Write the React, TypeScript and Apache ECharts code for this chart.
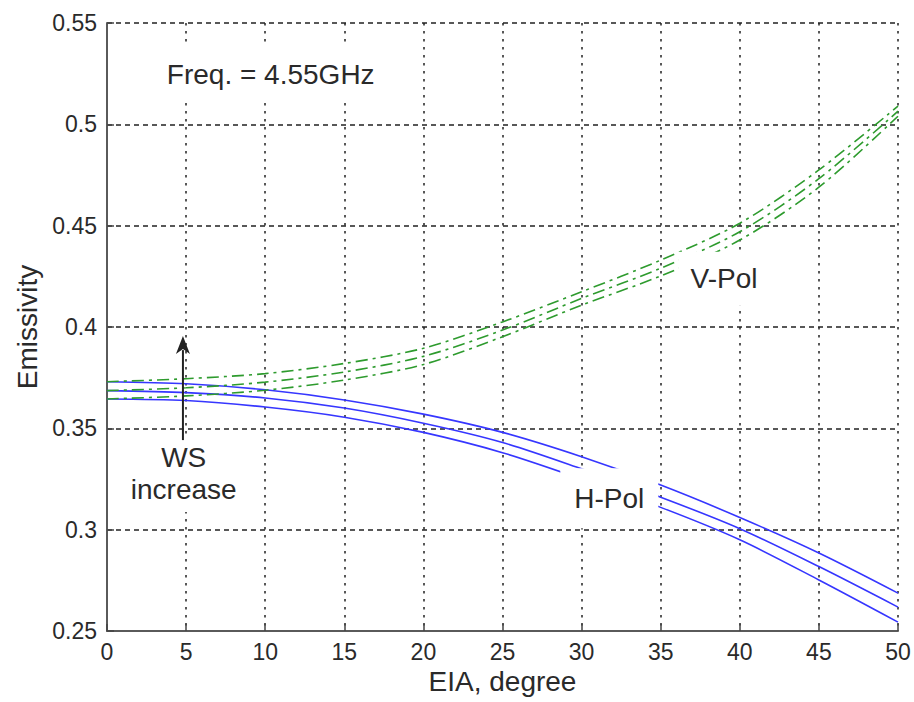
import React, { useEffect, useRef } from "react";
import * as echarts from "echarts";

// Incidence angle (degrees)
const eia = [0, 5, 10, 15, 20, 25, 30, 35, 40, 45, 50];

// H-polarisation emissivity, three wind speeds
const hPolA = [0.373, 0.372, 0.369, 0.364, 0.357, 0.348, 0.336, 0.322, 0.306, 0.2885, 0.2687];
const hPolB = [0.3686, 0.3676, 0.365, 0.36, 0.3525, 0.343, 0.33, 0.316, 0.3005, 0.2818, 0.2618];
const hPolC = [0.3645, 0.3637, 0.3605, 0.3555, 0.348, 0.338, 0.325, 0.311, 0.295, 0.2752, 0.2544];

// V-polarisation emissivity, three wind speeds
const vPolA = [0.373, 0.3745, 0.377, 0.382, 0.3895, 0.4025, 0.4174, 0.433, 0.4512, 0.4775, 0.509];
const vPolB = [0.3686, 0.370, 0.3728, 0.3778, 0.3855, 0.3985, 0.4141, 0.429, 0.447, 0.4732, 0.5065];
const vPolC = [0.3645, 0.366, 0.3688, 0.3738, 0.3815, 0.3952, 0.4108, 0.4252, 0.4429, 0.469, 0.504];

// Axis ticks
const xTicks = { min: 0, max: 50, step: 5 };
const yTicks = { min: 0.25, max: 0.55, step: 0.05 };

// Text annotations, anchored in data coordinates (centre of the label)
const labels = [
  { text: "Freq. = 4.55GHz", x: 10.35, y: 0.5248, pad: [13, 14] },
  { text: "V-Pol", x: 39.0, y: 0.4238, pad: [11, 12] },
  { text: "H-Pol", x: 31.75, y: 0.3155, pad: [14, 14] },
  { text: "WS\nincrease", x: 4.85, y: 0.3275, pad: [6, 14] },
];

// "WS increase" arrow (data coordinates)
const arrow = { x: 4.8, from: 0.3442, to: 0.3955 };

const FONT = "'Liberation Sans', Arial, Helvetica, sans-serif";
const TEXT = "#2a2a2a";
const BLUE = "#3636ff";
const GREEN = "#2e9b2e";

const pairs = (ys: number[]) => eia.map((x, i) => [x, ys[i]]);

export default function App() {
  const ref = useRef<HTMLDivElement>(null);

  useEffect(() => {
    if (!ref.current) return;
    const chart = echarts.init(ref.current, null, { renderer: "svg" });

    const hLine = (name: string, ys: number[]) => ({
      name,
      type: "line",
      data: pairs(ys),
      smooth: 0.3,
      symbol: "none",
      lineStyle: { color: BLUE, width: 1.6 },
      z: 3,
    });
    const vLine = (name: string, ys: number[]) => ({
      name,
      type: "line",
      data: pairs(ys),
      smooth: 0.3,
      symbol: "none",
      lineStyle: { color: GREEN, width: 1.6, type: [12, 5, 3, 5] },
      z: 3,
    });

    chart.setOption({
      animation: false,
      backgroundColor: "#ffffff",
      grid: { left: 107, right: 16, top: 23, bottom: 71, containLabel: false },
      xAxis: {
        type: "value",
        min: xTicks.min,
        max: xTicks.max,
        interval: xTicks.step,
        name: "EIA, degree",
        nameLocation: "middle",
        nameGap: 36,
        nameTextStyle: { fontFamily: FONT, fontSize: 28, color: TEXT },
        axisLine: { show: true, lineStyle: { color: "#5a5a5a", width: 2 } },
        axisTick: { show: true, inside: true, length: 7, lineStyle: { color: "#444", width: 1.5 } },
        axisLabel: { fontFamily: FONT, fontSize: 23, color: TEXT, margin: 9 },
        splitLine: { show: true, lineStyle: { color: "#222", width: 1.5, type: [2.5, 5.5] } },
      },
      yAxis: {
        type: "value",
        min: yTicks.min,
        max: yTicks.max,
        interval: yTicks.step,
        name: "Emissivity",
        nameLocation: "middle",
        nameGap: 64,
        nameTextStyle: { fontFamily: FONT, fontSize: 28, color: TEXT },
        axisLine: { show: true, lineStyle: { color: "#5a5a5a", width: 2 } },
        axisTick: { show: true, inside: true, length: 7, lineStyle: { color: "#444", width: 1.5 } },
        axisLabel: {
          fontFamily: FONT,
          fontSize: 23,
          color: TEXT,
          margin: 10,
          formatter: (v: number) => String(Number(v.toFixed(2))),
        },
        splitLine: { show: true, lineStyle: { color: "#222", width: 1.5, type: [5, 4] } },
      },
      series: [
        hLine("H-Pol 1", hPolA),
        hLine("H-Pol 2", hPolB),
        hLine("H-Pol 3", hPolC),
        vLine("V-Pol 1", vPolA),
        vLine("V-Pol 2", vPolB),
        vLine("V-Pol 3", vPolC),
      ],
    });

    const px = (x: number, y: number) =>
      chart.convertToPixel({ gridIndex: 0 }, [x, y]) as number[];

    const textEls = labels.map((l) => {
      const p = px(l.x, l.y);
      return {
        type: "text",
        x: p[0],
        y: p[1],
        z: 100,
        style: {
          text: l.text,
          fontFamily: FONT,
          fontSize: 28,
          lineHeight: 32,
          fill: TEXT,
          align: "center",
          verticalAlign: "middle",
          backgroundColor: "#ffffff",
          padding: l.pad,
        },
      };
    });

    const a0 = px(arrow.x, arrow.from);
    const a1 = px(arrow.x, arrow.to);
    const headLen = 18;
    const headHalf = 7;
    const arrowEls = [
      {
        type: "line",
        z: 101,
        shape: { x1: a0[0], y1: a0[1], x2: a1[0], y2: a1[1] + headLen - 4 },
        style: { stroke: "#222", lineWidth: 2 },
      },
      {
        type: "polygon",
        z: 101,
        shape: {
          points: [
            [a1[0], a1[1]],
            [a1[0] + headHalf, a1[1] + headLen],
            [a1[0], a1[1] + headLen - 5],
            [a1[0] - headHalf, a1[1] + headLen],
          ],
        },
        style: { fill: "#222" },
      },
    ];

    chart.setOption({ graphic: [...textEls, ...arrowEls] });

    return () => chart.dispose();
  }, []);

  return (
    <div
      ref={ref}
      style={{ position: "fixed", left: 0, top: 0, width: 914, height: 702, background: "#fff" }}
    />
  );
}
